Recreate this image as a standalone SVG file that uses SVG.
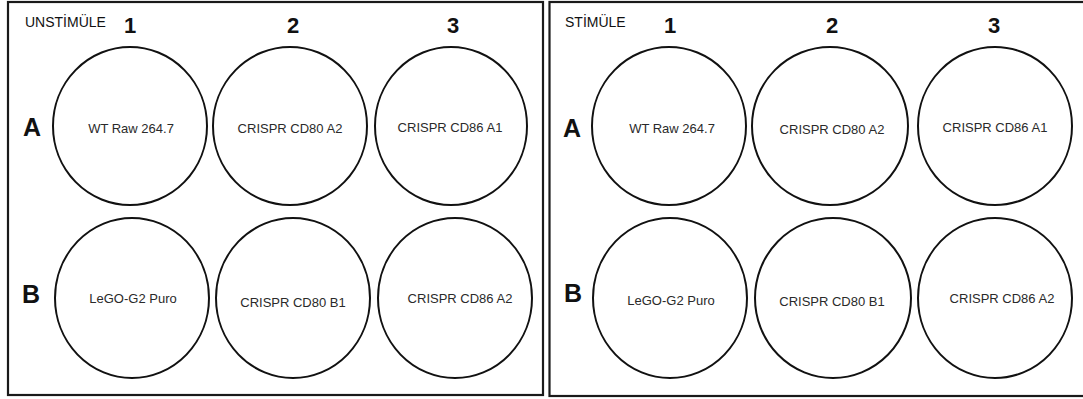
<svg xmlns="http://www.w3.org/2000/svg" width="1083" height="399" viewBox="0 0 1083 399">
<style>
.panel{fill:#fff;stroke:#1a1a1a;stroke-width:2.2}
.well{fill:#fff;stroke:#111;stroke-width:2}
.lbl{font-family:"Liberation Sans",Arial,sans-serif;font-size:13px;fill:#2a2a2a;text-anchor:middle}
.num{font-family:"Liberation Sans",Arial,sans-serif;font-size:22px;font-weight:bold;fill:#111;text-anchor:middle}
.row{font-family:"Liberation Sans",Arial,sans-serif;font-size:25px;font-weight:bold;fill:#111}
.title{font-family:"Liberation Sans",Arial,sans-serif;font-size:14px;fill:#111}
</style>
<rect width="1083" height="399" fill="#fff"/>
<g id="panel-unstimule">
<rect class="panel" x="8" y="2" width="535" height="393"/>
<text class="title" x="25" y="27">UNSTİMÜLE</text>
<text class="num" x="130" y="33">1</text>
<text class="num" x="293" y="33">2</text>
<text class="num" x="453" y="33">3</text>
<text class="row" x="23" y="136">A</text>
<text class="row" x="22" y="303">B</text>
</g>
<g id="u-A1"><ellipse class="well" cx="130" cy="126" rx="77" ry="79"/><text class="lbl" x="131" y="133">WT Raw 264.7</text></g>
<g id="u-A2"><ellipse class="well" cx="290" cy="126" rx="77" ry="79"/><text class="lbl" x="290" y="133">CRISPR CD80 A2</text></g>
<g id="u-A3"><ellipse class="well" cx="451" cy="126" rx="76" ry="79"/><text class="lbl" x="450" y="132">CRISPR CD86 A1</text></g>
<g id="u-B1"><ellipse class="well" cx="132" cy="298" rx="77" ry="80"/><text class="lbl" x="133" y="303">LeGO-G2 Puro</text></g>
<g id="u-B2"><ellipse class="well" cx="293" cy="298" rx="77" ry="80"/><text class="lbl" x="293" y="307">CRISPR CD80 B1</text></g>
<g id="u-B3"><ellipse class="well" cx="455" cy="298" rx="77" ry="80"/><text class="lbl" x="460" y="303">CRISPR CD86 A2</text></g>
<g id="panel-stimule">
<rect class="panel" x="549.5" y="2" width="540" height="394"/>
<text class="title" x="565" y="27">STİMÜLE</text>
<text class="num" x="670" y="33">1</text>
<text class="num" x="832" y="33">2</text>
<text class="num" x="994" y="33">3</text>
<text class="row" x="563" y="137">A</text>
<text class="row" x="564" y="302">B</text>
</g>
<g id="s-A1"><ellipse class="well" cx="669" cy="126" rx="77" ry="79"/><text class="lbl" x="672" y="133">WT Raw 264.7</text></g>
<g id="s-A2"><ellipse class="well" cx="830" cy="126" rx="78" ry="79"/><text class="lbl" x="832" y="134">CRISPR CD80 A2</text></g>
<g id="s-A3"><ellipse class="well" cx="995" cy="126" rx="77" ry="79"/><text class="lbl" x="995" y="132">CRISPR CD86 A1</text></g>
<g id="s-B1"><ellipse class="well" cx="670" cy="298" rx="77" ry="80"/><text class="lbl" x="671" y="305">LeGO-G2 Puro</text></g>
<g id="s-B2"><ellipse class="well" cx="833" cy="298" rx="78" ry="80"/><text class="lbl" x="832" y="306">CRISPR CD80 B1</text></g>
<g id="s-B3"><ellipse class="well" cx="995" cy="298" rx="77" ry="80"/><text class="lbl" x="1002" y="303">CRISPR CD86 A2</text></g>
<g id="connectors"/>
</svg>
